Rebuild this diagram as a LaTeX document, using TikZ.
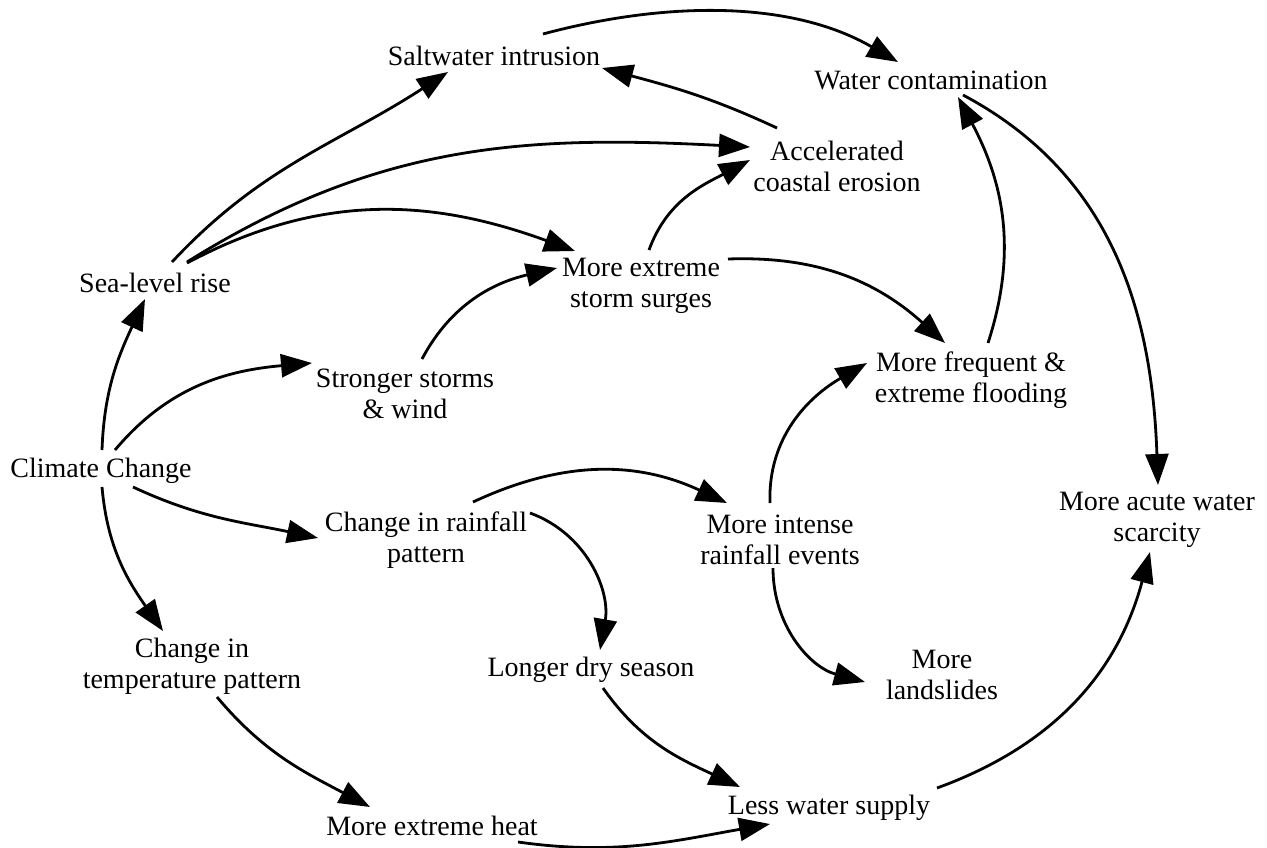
\documentclass[tikz,border=0pt]{standalone}
\usepackage{fontspec}
\setmainfont{Liberation Serif}
\usetikzlibrary{arrows.meta,calc}

\tikzset{
  var/.style={align=center, inner sep=0pt, font=\fontsize{28}{31}\selectfont},
  link/.style={line width=2.8pt, -{Triangle[length=31pt,width=23pt]}},
}

\begin{document}
\begin{tikzpicture}[x=1pt,y=1pt]
\useasboundingbox (0,0) rectangle (1267,-847);

% variables
\node[var] (cc)      at (101,-471) {Climate Change};
\node[var] (slr)     at (155,-283) {Sea-level rise};
\node[var] (salt)    at (494,-56)  {Saltwater intrusion};
\node[var] (contam)  at (931,-80)  {Water contamination};
\node[var] (eros)    at (837,-166) {Accelerated\\coastal erosion};
\node[var] (surge)   at (641,-286) {More extreme\\storm surges};
\node[var] (storm)   at (405,-394) {Stronger storms\\\& wind};
\node[var] (flood)   at (971,-380) {More frequent \&\\extreme flooding};
\node[var] (scar)    at (1157,-520){More acute water\\scarcity};
\node[var] (rain)    at (426,-540) {Change in rainfall\\pattern};
\node[var] (intense) at (780,-540) {More intense\\rainfall events};
\node[var] (land)    at (942,-675) {More\\landslides};
\node[var] (dry)     at (591,-670) {Longer dry season};
\node[var] (temp)    at (192,-666) {Change in\\temperature pattern};
\node[var] (heat)    at (432,-826) {More extreme heat};
\node[var] (supply)  at (829,-808) {Less water supply};

% causal links
\draw[link] ($(cc)+(1,21)$)      to[out=88,in=245]  ($(slr)+(-10,-16)$);
\draw[link] ($(cc)+(14,21)$)     to[out=50,in=185]  ($(storm)+(-93,31)$);
\draw[link] ($(cc)+(32,-16)$)    to[out=335,in=168] ($(rain)+(-108,2)$);
\draw[link] ($(cc)+(1,-16)$)     to[out=275,in=125] ($(temp)+(-29,35)$);
\draw[link] ($(slr)+(17,21)$)    to[out=47,in=213]  ($(salt)+(-46,-16)$);
\draw[link] ($(slr)+(32,21)$)    to[out=32,in=177]  ($(eros)+(-87,19)$);
\draw[link] ($(slr)+(32,20)$)    to[out=28,in=160]  ($(surge)+(-66,35)$);
\draw[link] ($(storm)+(17,35)$)  to[out=62,in=193]  ($(surge)+(-84,18)$);
\draw[link] ($(surge)+(8,36)$)   to[out=70,in=208]  ($(eros)+(-87,6)$);
\draw[link] ($(eros)+(-60,38)$)  to[out=155,in=345] ($(salt)+(108,-12)$);
\draw[link] ($(salt)+(49,22)$)   to[out=15,in=150,looseness=0.9] ($(contam)+(-33,18)$);
\draw[link] ($(surge)+(87,27)$)  to[out=2,in=138]   ($(flood)+(-26,37)$);
\draw[link] ($(flood)+(17,37)$)  to[out=72,in=298]  ($(contam)+(27,-17)$);
\draw[link] ($(contam)+(32,-15)$) to[out=332,in=92] ($(scar)+(1,35)$);
\draw[link] ($(rain)+(47,38)$)   to[out=25,in=155]  ($(intense)+(-53,37)$);
\draw[link] ($(rain)+(104,27)$)  to[out=340,in=80]  ($(dry)+(9,20)$);
\draw[link] ($(intense)+(-10,37)$) to[out=92,in=210] ($(flood)+(-104,17)$);
\draw[link] ($(intense)+(-7,-28)$) to[out=270,in=165] ($(land)+(-77,-7)$);
\draw[link] ($(temp)+(25,-31)$)  to[out=310,in=152] ($(heat)+(-62,19)$);
\draw[link] ($(dry)+(12,-18)$)   to[out=305,in=155] ($(supply)+(-89,21)$);
\draw[link] ($(heat)+(86,-16)$)  to[out=352,in=190] ($(supply)+(-59,-16)$);
\draw[link] ($(supply)+(108,20)$) to[out=20,in=255] ($(scar)+(-7,-32)$);
\end{tikzpicture}
\end{document}
